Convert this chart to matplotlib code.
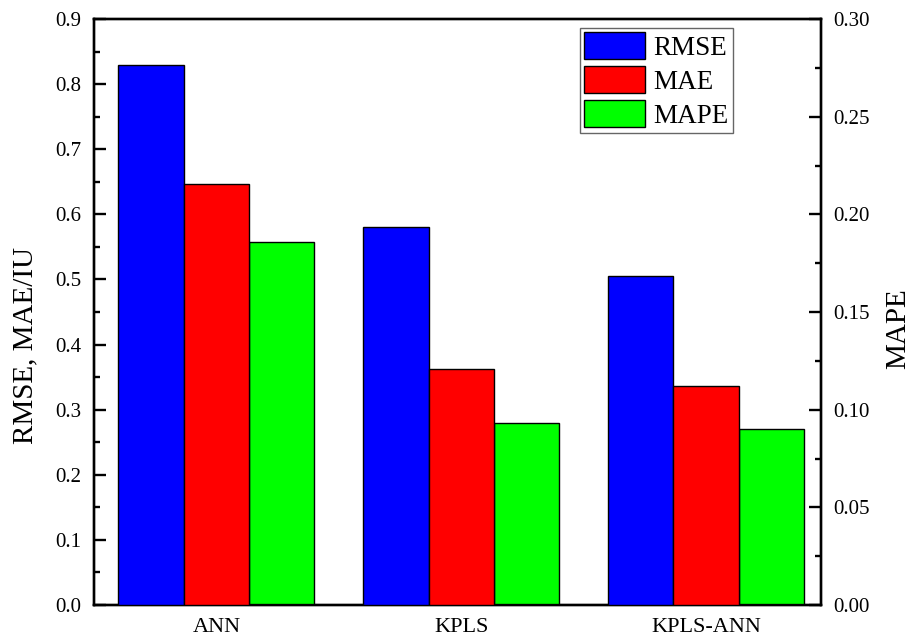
import matplotlib
matplotlib.use("Agg")
import matplotlib.pyplot as plt
import numpy as np
from matplotlib.ticker import MultipleLocator

categories = ["ANN", "KPLS", "KPLS-ANN"]
rmse = [0.830, 0.581, 0.505]
mae = [0.647, 0.362, 0.336]
mape = [0.186, 0.093, 0.090]

plt.rcParams['font.family'] = ['Liberation Serif', 'DejaVu Serif']

fig = plt.figure(figsize=(9.11, 6.38), dpi=100)
ax = fig.add_axes([94/911, 1-605/638, (821-94)/911, (605-19)/638])
ax2 = ax.twinx()

x = np.arange(len(categories))
w = 0.8/3
b1 = ax.bar(x - w, rmse, w, color='#0000ff', edgecolor='black', linewidth=1.0, label='RMSE', zorder=3)
b2 = ax.bar(x, mae, w, color='#ff0000', edgecolor='black', linewidth=1.0, label='MAE', zorder=3)
b3 = ax2.bar(x + w, mape, w, color='#00ff00', edgecolor='black', linewidth=1.0, label='MAPE', zorder=3)

ax.set_xlim(-0.5, 2.47)
ax.set_ylim(0, 0.9)
ax2.set_ylim(0, 0.30)
ax.yaxis.set_major_locator(MultipleLocator(0.1))
ax.yaxis.set_minor_locator(MultipleLocator(0.05))
ax2.yaxis.set_major_locator(MultipleLocator(0.05))
ax2.yaxis.set_minor_locator(MultipleLocator(0.025))
ax.set_yticks(np.arange(0, 0.91, 0.1))
ax.set_yticklabels([f"{v:.1f}" for v in np.arange(0, 0.91, 0.1)])
ax2.set_yticks(np.arange(0, 0.301, 0.05))
ax2.set_yticklabels([f"{v:.2f}" for v in np.arange(0, 0.301, 0.05)])
ax.set_xticks(x)
ax.set_xticklabels(categories)

for a in (ax, ax2):
    for s in a.spines.values():
        s.set_linewidth(1.7)
ax.tick_params(axis='y', which='major', direction='in', length=8.5, width=1.7, labelsize=15, pad=9)
ax.tick_params(axis='y', which='minor', direction='in', length=4.5, width=1.7)
ax.tick_params(axis='x', length=0, labelsize=16, pad=9)
ax2.tick_params(axis='y', which='major', direction='in', length=8.5, width=1.7, labelsize=15, pad=9)
ax2.tick_params(axis='y', which='minor', direction='in', length=4.5, width=1.7)

ax.set_ylabel("RMSE, MAE/IU", fontsize=21)
ax2.set_ylabel("MAPE", fontsize=21)
ax.yaxis.set_label_coords((25-94)/727, (605-346)/586)
ax2.yaxis.set_label_coords((898-94)/727, (605-329)/586)
for lab in (ax.yaxis.label, ax2.yaxis.label):
    lab.set_verticalalignment('center')
    lab.set_horizontalalignment('center')

leg = ax.legend(handles=[b1, b2, b3], labels=['RMSE', 'MAE', 'MAPE'],
                loc='upper right', bbox_to_anchor=((733-94)/727, (605-28)/586),
                borderaxespad=0, fontsize=19.5, fancybox=False, framealpha=1,
                handlelength=2.25, handleheight=1.15, handletextpad=0.33,
                labelspacing=0.2, borderpad=0.15, edgecolor='#666666')
leg.get_frame().set_linewidth(1.0)
leg.set_zorder(10)
ax.set_zorder(ax2.get_zorder() + 1)
ax.patch.set_visible(False)

fig.savefig("out.png", dpi=100)
